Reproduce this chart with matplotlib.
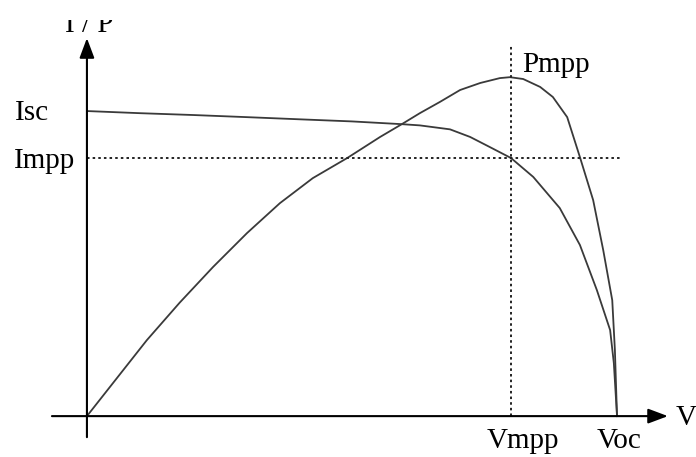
import numpy as np
import matplotlib
matplotlib.use('Agg')
import matplotlib.pyplot as plt
from matplotlib.transforms import Bbox, TransformedBbox

plt.rcParams['font.family'] = ['Liberation Serif', 'DejaVu Serif']

# I-V curve (normalised: Voc = 1, Isc = 1)
iv_v = [0.0, 0.10, 0.20, 0.302, 0.40, 0.50, 0.594, 0.628, 0.685, 0.723, 0.760, 0.80,
        0.842, 0.892, 0.930, 0.962, 0.987, 0.994, 1.0]
iv_i = [1.0, 0.993, 0.987, 0.980, 0.973, 0.966, 0.957, 0.953, 0.940, 0.915, 0.882, 0.846,
        0.784, 0.682, 0.561, 0.413, 0.282, 0.174, 0.0]

# P-V curve, drawn on the same vertical scale
pv_v = [0.0, 0.049, 0.113, 0.175, 0.238, 0.302, 0.364, 0.426, 0.491, 0.553, 0.594,
        0.628, 0.666, 0.704, 0.742, 0.779, 0.798, 0.823, 0.855, 0.879, 0.906, 0.930,
        0.955, 0.974, 0.991, 0.996, 1.0]
pv_p = [0.0, 0.108, 0.249, 0.372, 0.489, 0.600, 0.698, 0.780, 0.846, 0.915, 0.957,
        0.993, 1.030, 1.069, 1.092, 1.108, 1.111, 1.105, 1.079, 1.046, 0.980, 0.849,
        0.708, 0.544, 0.380, 0.216, 0.0]

v_mpp = 0.80
i_mpp = 0.846

fig = plt.figure(figsize=(6.96, 4.57), dpi=100)
ax = fig.add_axes([0, 0, 1, 1])
ax.set_xlim(-0.164, 1.149)
ax.set_ylim(-0.134, 1.364)
ax.axis('off')

curve = dict(color='#3a3a3a', lw=1.3, solid_joinstyle='round')
ax.plot(iv_v, iv_i, **curve)
ax.plot(pv_v, pv_p, **curve)

# dotted guide lines through the MPP
dots = dict(color='#222222', lw=1.4, linestyle=(0, (1.3, 1.6)))
ax.plot([0, 1.009], [i_mpp, i_mpp], **dots)
ax.plot([v_mpp, v_mpp], [0, 1.216], **dots)

# axes with arrow heads
arrow = dict(arrowstyle='-|>,head_length=0.8,head_width=0.3', lw=1.5, color='black',
             mutation_scale=15, shrinkA=0, shrinkB=0)
ax.annotate('', xy=(0, 1.239), xytext=(0, -0.069), arrowprops=arrow)
ax.annotate('', xy=(1.096, 0), xytext=(-0.066, 0), arrowprops=arrow)

fs = 21
ax.text(-0.136, 0.970, 'Isc', fontsize=fs, va='baseline', ha='left')
ax.text(-0.138, 0.813, 'Impp', fontsize=fs, va='baseline', ha='left')
ax.text(0.821, 1.128, 'Pmpp', fontsize=fs, va='baseline', ha='left')
ax.text(0.755, -0.105, 'Vmpp', fontsize=fs, va='baseline', ha='left')
ax.text(0.962, -0.105, 'Voc', fontsize=fs, va='baseline', ha='left')
ax.text(1.111, -0.03, 'V', fontsize=fs, va='baseline', ha='left')

# axis title, top half cut off as in the scanned figure
t = ax.text(0.005, 1.259, 'I / P', fontsize=fs, va='baseline', ha='center')
t.set_clip_box(TransformedBbox(Bbox([[0, 0], [1, 437 / 457]]), fig.transFigure))
t.set_clip_on(True)

fig.savefig('out.png', dpi=100)
